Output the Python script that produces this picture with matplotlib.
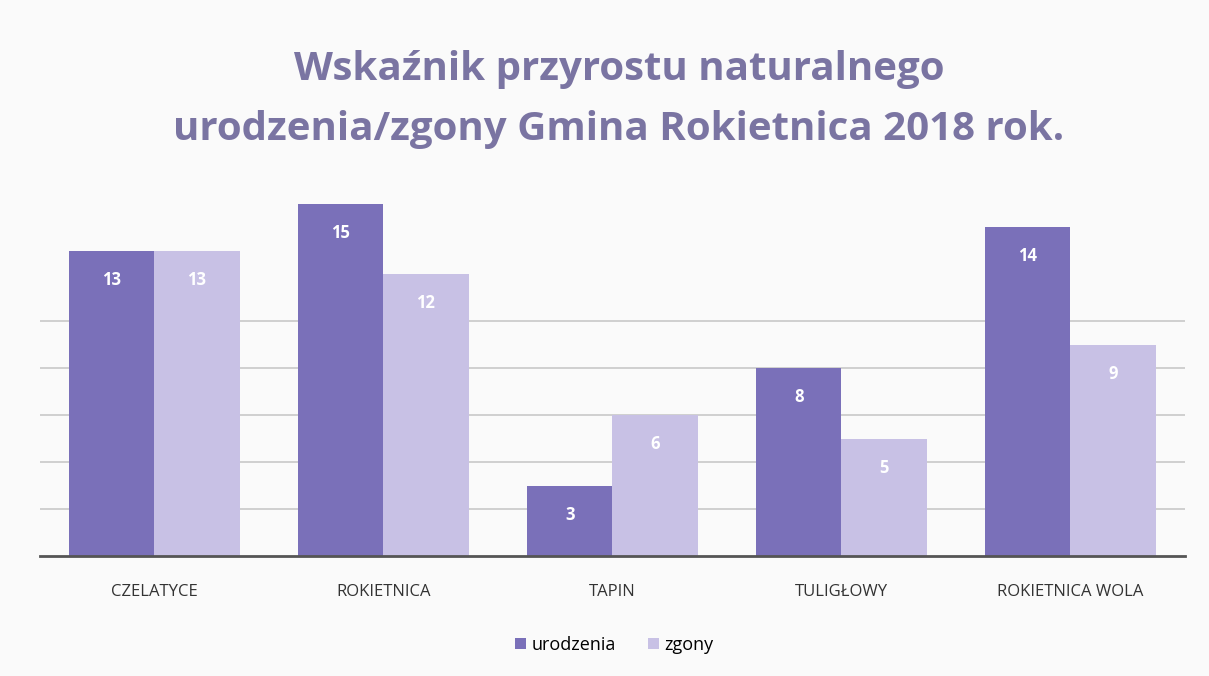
import numpy as np
import matplotlib.pyplot as plt

# Data
categories = ['CZELATYCE', 'ROKIETNICA', 'TAPIN', 'TULIGŁOWY', 'ROKIETNICA WOLA']
urodzenia = [13, 15, 3, 8, 14]
zgony = [13, 12, 6, 5, 9]

col_u = '#7a70b9'
col_z = '#c8c1e5'

fig = plt.figure(figsize=(12.09, 6.76), dpi=100, facecolor='#fafafa')
ax = fig.add_axes([0.033, 0.1775, 0.947, 0.556])
ax.set_facecolor('#fafafa')

x = np.arange(len(categories))
w = 0.372
b1 = ax.bar(x - w / 2, urodzenia, w, color=col_u, label='urodzenia', zorder=3)
b2 = ax.bar(x + w / 2, zgony, w, color=col_z, label='zgony', zorder=3)

for bars in (b1, b2):
    for r in bars:
        ax.annotate(str(int(r.get_height())), (r.get_x() + r.get_width() / 2, r.get_height()),
                    xytext=(0, -21), textcoords='offset points', ha='center', va='center',
                    color='white', fontsize=12, fontweight='bold', family='Open Sans', zorder=4)

ax.set_xlim(-0.5, 4.5)
ax.set_ylim(0, 16)
ax.set_yticks([2, 4, 6, 8, 10])
ax.yaxis.grid(True, color='#c8c8c8', linewidth=1.2, zorder=0)
ax.tick_params(axis='y', length=0, labelleft=False)
ax.tick_params(axis='x', length=0, pad=20)
ax.set_xticks(x)
ax.set_xticklabels(categories, fontsize=12, color='#333333', family='Open Sans')
for s in ['top', 'right', 'left']:
    ax.spines[s].set_visible(False)
ax.spines['bottom'].set_color('#555555')
ax.spines['bottom'].set_linewidth(2)
ax.spines['bottom'].set_zorder(5)

fig.text(0.512, 0.897, 'Wskaźnik przyrostu naturalnego', ha='center', va='center',
         fontsize=29, fontweight='bold', color='#7a74a2', family='Open Sans')
fig.text(0.512, 0.808, 'urodzenia/zgony Gmina Rokietnica 2018 rok.', ha='center', va='center',
         fontsize=29, fontweight='bold', color='#7a74a2', family='Open Sans')

fig.legend(handles=[b1, b2], loc='center', bbox_to_anchor=(0.508, 0.046), ncol=2,
           frameon=False, handlelength=0.6, handleheight=0.6,
           handletextpad=0.3, columnspacing=1.8, prop={'family': 'Open Sans', 'size': 13})

fig.savefig('out.png', dpi=100, facecolor=fig.get_facecolor())
